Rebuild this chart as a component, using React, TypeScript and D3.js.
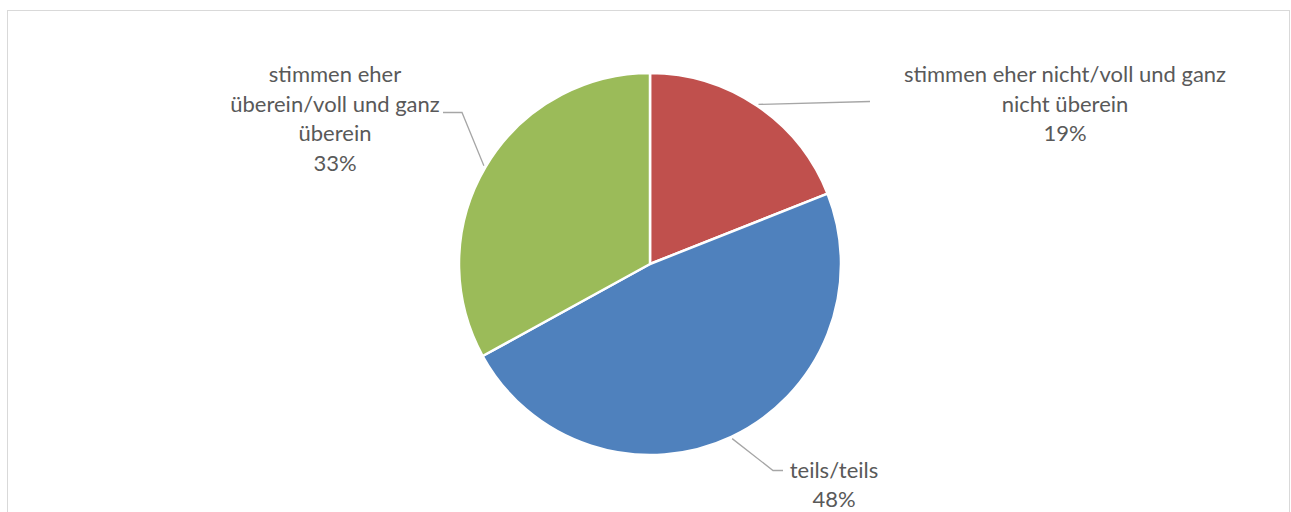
import React from "react";
import * as d3 from "d3";

const categories = [
  "stimmen eher nicht/voll und ganz nicht überein",
  "teils/teils",
  "stimmen eher überein/voll und ganz überein",
];
const values = [19, 48, 33];
const colors = ["#C0504D", "#4F81BD", "#9BBB59"];
const labelLines = [
  ["stimmen eher nicht/voll und ganz", "nicht überein", "19%"],
  ["teils/teils", "48%"],
  ["stimmen eher", "überein/voll und ganz", "überein", "33%"],
];

const W = 1291;
const H = 512;
const cx = 650;
const cy = 264;
const R = 191;
const FONT = "Lato, 'Open Sans', sans-serif";
const FS = 22;
const LH = 29.5;

export default function App() {
  const pie = d3.pie<number>().sort(null).value((d) => d).startAngle(0).endAngle(2 * Math.PI);
  const arcs = pie(values);
  const arcGen = d3.arc<d3.PieArcDatum<number>>().innerRadius(0).outerRadius(R);

  const mid = (a: d3.PieArcDatum<number>) => (a.startAngle + a.endAngle) / 2;
  const pt = (ang: number, r: number) => [cx + r * Math.sin(ang), cy - r * Math.cos(ang)];

  const layouts = arcs.map((a, i) => {
    const [sx, sy] = pt(mid(a), R + 2);
    if (i === 0) {
      return { x: 1065, y: 82, lh: LH, path: `M${sx},${sy}L870,101.5` };
    } else if (i === 1) {
      return { x: 834, y: 478, lh: 28.5, path: `M${sx},${sy}L773,470.5L783,470.5` };
    }
    return { x: 335, y: 82, lh: LH, path: `M${sx},${sy}L462,112.5L443,112.5` };
  });

  return (
    <svg width={W} height={H} style={{ display: "block", position: "absolute", left: 0, top: 0 }}>
      <rect x={0} y={0} width={W} height={H} fill="#fff" />
      <rect x={7.5} y={10.5} width={1282} height={520} fill="#fff" stroke="#d9d9d9" strokeWidth={1} />
      <g transform={`translate(${cx},${cy})`}>
        {arcs.map((a, i) => (
          <path key={i} d={arcGen(a) || ""} fill={colors[i]} stroke="#fff" strokeWidth={2.5} strokeLinejoin="round" />
        ))}
      </g>
      {layouts.map((l, i) => (
        <g key={i}>
          <path d={l.path} fill="none" stroke="#a6a6a6" strokeWidth={1.3} />
          <text x={l.x} y={l.y} textAnchor="middle" fontFamily={FONT} fontSize={FS} fill="#595959">
            {labelLines[i].map((t, j) => (
              <tspan key={j} x={l.x} y={l.y + j * l.lh}>{t}</tspan>
            ))}
          </text>
        </g>
      ))}
    </svg>
  );
}
